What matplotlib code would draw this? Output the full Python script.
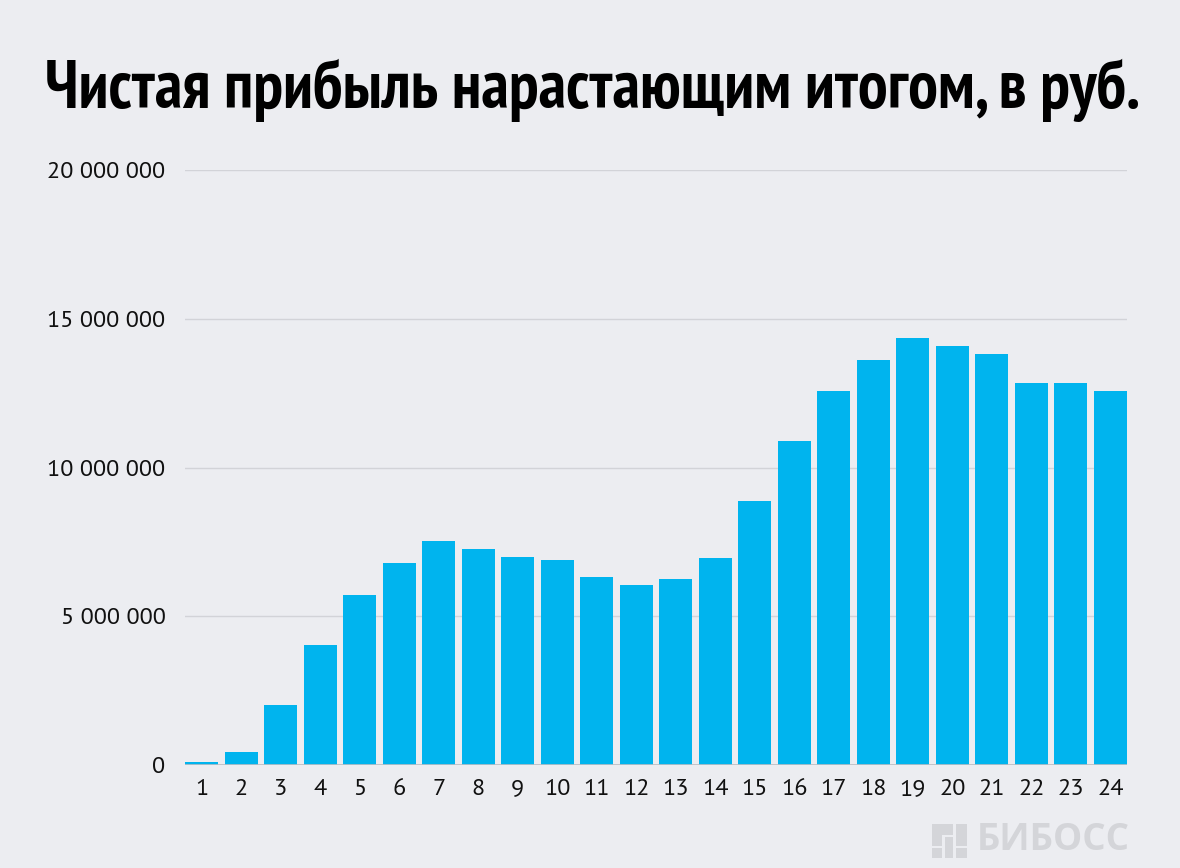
import matplotlib
matplotlib.use("Agg")
import matplotlib.pyplot as plt
from matplotlib.patches import Rectangle
from matplotlib.ticker import FuncFormatter

# data
months = list(range(1, 25))
profit = [0.10e6, 0.45e6, 2.03e6, 4.03e6, 5.72e6, 6.80e6, 7.53e6, 7.26e6,
          6.99e6, 6.89e6, 6.32e6, 6.05e6, 6.25e6, 6.96e6, 8.87e6, 10.89e6,
          12.57e6, 13.61e6, 14.35e6, 14.08e6, 13.80e6, 12.84e6, 12.84e6, 12.57e6]
yticks = [0, 5e6, 10e6, 15e6, 20e6]
title = "Чистая прибыль нарастающим итогом, в руб."

bg = "#ECEDF1"
bar_color = "#00B4EE"
width = 0.84

fig = plt.figure(figsize=(11.8, 8.68), dpi=100, facecolor=bg)
ax = fig.add_axes([185 / 1180, (868 - 765) / 868, (1127 - 185) / 1180, (765 - 170) / 868])
ax.set_facecolor(bg)

ax.bar(months, profit, width=width, color=bar_color, zorder=3)
ax.set_xlim(1 - width / 2, 24 + width / 2)
ax.set_ylim(0, 20e6)

ax.set_yticks(yticks)
ax.yaxis.set_major_formatter(FuncFormatter(lambda v, _: f"{int(v):,}".replace(",", " ")))
ax.set_xticks(months)
ax.set_xticklabels([str(m) for m in months])
ax.grid(axis="y", color="#D2D3D8", linewidth=1, zorder=0)
ax.axhline(0, color="#BDBEC3", linewidth=1.2, zorder=4)
for s in ax.spines.values():
    s.set_visible(False)
ax.tick_params(length=0, labelsize=17.5, colors="#111111")
ax.tick_params(axis="y", pad=14)
ax.tick_params(axis="x", pad=10)
for lab in ax.get_xticklabels() + ax.get_yticklabels():
    lab.set_family(["PT Sans", "DejaVu Sans"])

fig.text(45 / 1180, 1 - 90 / 868, title, fontsize=48, fontweight="bold",
         family=["PT Sans Narrow", "DejaVu Sans"],
         color="#000000", va="center", ha="left")

# watermark
lg = "#D4D5D9"
fig.text(977 / 1180, 1 - 840 / 868, "БИБОСС", fontsize=26.5, fontweight="bold",
         family=["Open Sans", "DejaVu Sans"], color=lg, ha="left", va="center")
for (x0, x1, y0, y1) in [(932, 953, 824, 835), (932, 942, 835, 846), (956, 967, 824, 846),
                         (945, 953, 837, 858), (932, 942, 848, 858), (956, 967, 848, 858)]:
    fig.patches.append(Rectangle((x0 / 1180, 1 - y1 / 868), (x1 - x0) / 1180, (y1 - y0) / 868,
                                 transform=fig.transFigure, facecolor=lg, edgecolor="none"))

fig.savefig("out.png", dpi=100, facecolor=bg)
